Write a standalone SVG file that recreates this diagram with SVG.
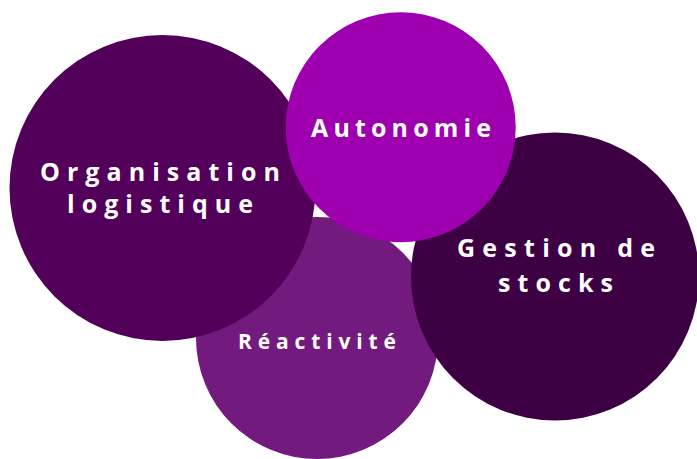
<svg xmlns="http://www.w3.org/2000/svg" width="697" height="459" viewBox="0 0 697 459">
<style>
text{font-family:"Open Sans","Liberation Sans",sans-serif;font-weight:700;fill:#ffffff;text-anchor:middle;font-variant-ligatures:none}
.l{font-size:25px}
.s{font-size:21px}
</style>
<rect width="697" height="459" fill="#ffffff"/>
<g id="reactivite">
<circle cx="317" cy="338" r="121" fill="#721A7E"/>
<text class="s" x="317" y="349" textLength="158" lengthAdjust="spacing">Réactivité</text>
</g>
<g id="organisation">
<circle cx="162.5" cy="188" r="153" fill="#52005A"/>
<text class="l" x="160" y="181" textLength="240" lengthAdjust="spacing">Organisation</text>
<text class="l" x="160" y="213" textLength="186" lengthAdjust="spacing">logistique</text>
</g>
<g id="gestion">
<circle cx="555" cy="276.5" r="144" fill="#3C0043"/>
<text class="l" x="556" y="257" textLength="198" lengthAdjust="spacing">Gestion de</text>
<text class="l" x="555.5" y="292" textLength="115" lengthAdjust="spacing">stocks</text>
</g>
<g id="autonomie">
<circle cx="400.7" cy="127.3" r="115" fill="#9E00B0"/>
<text class="l" x="401" y="137" textLength="180" lengthAdjust="spacing">Autonomie</text>
</g>
<g id="connectors"></g>
</svg>
